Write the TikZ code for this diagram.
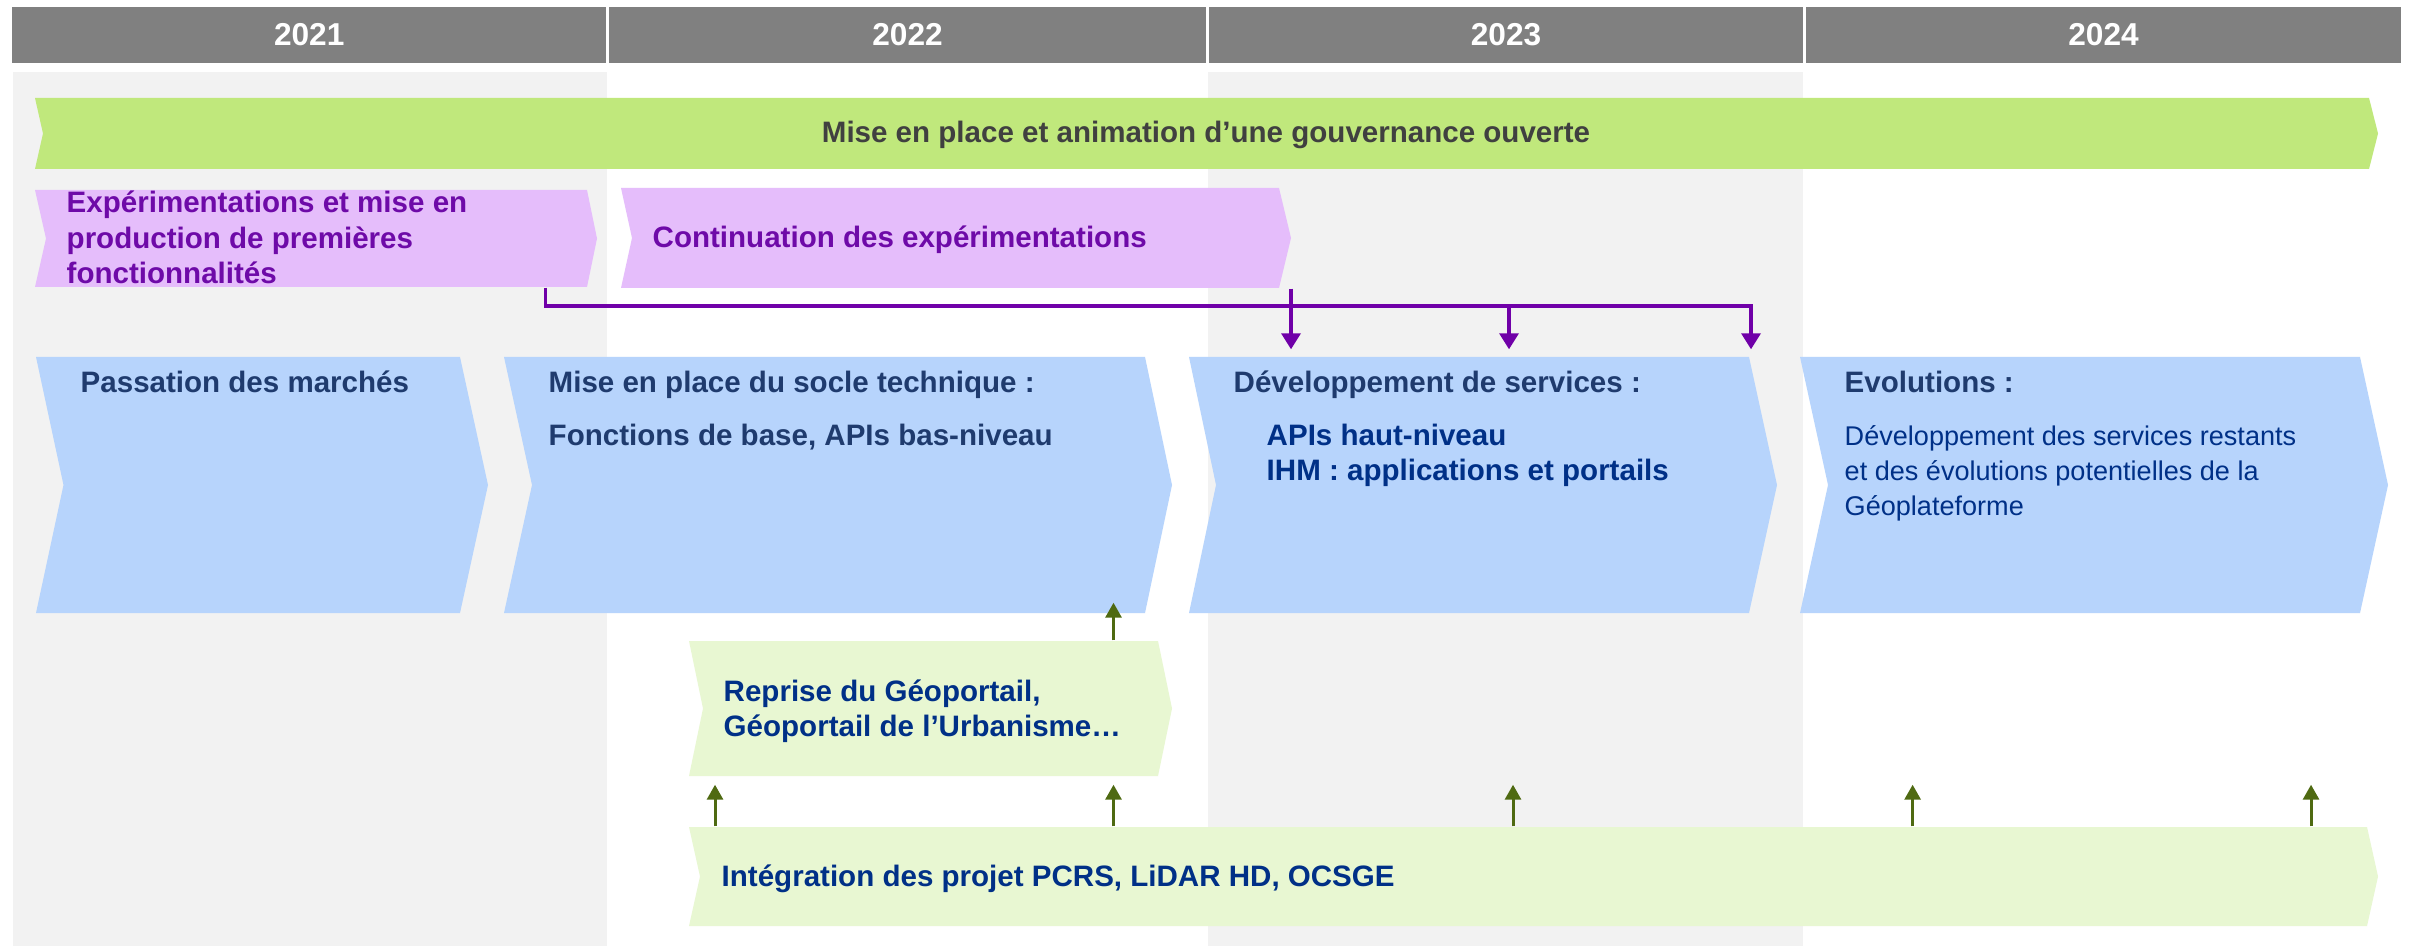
\documentclass[tikz,border=0pt]{standalone}
\usepackage{fontspec}
\setmainfont{Liberation Sans}
\usetikzlibrary{arrows.meta,fit}
\definecolor{hdrgray}{HTML}{808080}
\definecolor{bggray}{HTML}{F2F2F2}
\definecolor{gouvgreen}{HTML}{C0E87C}
\definecolor{lightgreen}{HTML}{E8F7D2}
\definecolor{purfill}{HTML}{E5BDFB}
\definecolor{purtext}{HTML}{6E0AA8}
\definecolor{purline}{HTML}{7000A8}
\definecolor{bluefill}{HTML}{B7D4FC}
\definecolor{navyA}{HTML}{1F3B6E}
\definecolor{navyB}{HTML}{003087}
\definecolor{arrgreen}{HTML}{4F6A12}
\definecolor{gouvtext}{HTML}{404040}
\newcommand\mychev[8]{%
  \fill[#8] (#2,#6) -- (#4,#6) -- (#5,{(#6+#7)/2}) -- (#4,#7) -- (#2,#7) -- (#3,{(#6+#7)/2}) -- cycle;
  \node[fit={(#2,#6) (#4,#7)}, inner sep=0pt] (#1) {};
}
\newcommand\bfont{\bfseries\fontsize{8.4}{9.96}\selectfont}
\newcommand\rfont{\fontsize{7.7}{9.96}\selectfont}
\tikzset{
  hdr/.style={fill=hdrgray, text=white, font=\bfseries\fontsize{9}{10}\selectfont, inner sep=0pt, minimum height=0.56cm},
  txt/.style={inner sep=0pt, anchor=base west},
  pline/.style={draw=purline, line width=0.95pt},
  parrow/.style={pline, -{Triangle[length=0.16cm,width=0.19cm]}, shorten >=0.07cm},
  garrow/.style={draw=arrgreen, line width=0.85pt, -{Triangle[length=0.15cm,width=0.16cm]}},
}
\begin{document}
\begin{tikzpicture}[x=0.01cm, y=-0.01cm]
\useasboundingbox (0,0) rectangle (2410,946);
\fill[white] (0,0) rectangle (2410,946);
% column backgrounds
\fill[bggray] (12.5,72) rectangle (607,946);
\fill[bggray] (1208,72) rectangle (1803,946);
% headers
\node[hdr, minimum width=5.935cm] (h1) at (309.25,35) {2021};
\node[hdr, minimum width=5.97cm] (h2) at (907.5,35) {2022};
\node[hdr, minimum width=5.94cm] (h3) at (1506,35) {2023};
\node[hdr, minimum width=5.95cm] (h4) at (2103.5,35) {2024};
% bars
\mychev{gouv}{35}{43}{2369}{2378}{98}{169}{gouvgreen}
\mychev{p1}{35}{46}{587}{597}{190}{287}{purfill}
\mychev{p2}{621}{632}{1279}{1291}{188}{288}{purfill}
\mychev{b1}{36}{63.5}{460}{488}{357}{613}{bluefill}
\mychev{b2}{504}{532}{1145}{1172}{357}{613}{bluefill}
\mychev{b3}{1189}{1216}{1749}{1777}{357}{613}{bluefill}
\mychev{b4}{1800}{1828}{2360}{2388}{357}{613}{bluefill}
\mychev{rep}{689}{703}{1158}{1172}{641}{776}{lightgreen}
\mychev{int}{689}{700}{2367}{2378}{827}{926}{lightgreen}
% texts
\node[inner sep=0pt, anchor=base, text=gouvtext, font=\bfont] (tgouv) at (1206,143) {Mise en place et animation d’une gouvernance ouverte};
\node[txt, text=purtext, font=\bfont] (tp1) at (66,213) {\begin{tabular}[t]{@{}l@{}}Expérimentations et mise en\\production de premières\\fonctionnalités\end{tabular}};
\node[txt, text=purtext, font=\bfont] (tp2) at (652,248) {Continuation des expérimentations};
\node[txt, text=navyA, font=\bfont] (tb1) at (80,393) {Passation des marchés};
\node[txt, text=navyA, font=\bfont] (tb2) at (548,393) {Mise en place du socle technique :};
\node[txt, text=navyA, font=\bfont] (tb2b) at (548,445) {Fonctions de base, APIs bas-niveau};
\node[txt, text=navyA, font=\bfont] (tb3) at (1233,393) {Développement de services :};
\node[txt, text=navyB, font=\bfont] (tb3b) at (1266,445) {\begin{tabular}[t]{@{}l@{}}APIs haut-niveau\\IHM : applications et portails\end{tabular}};
\node[txt, text=navyA, font=\bfont] (tb4) at (1844,393) {Evolutions :};
\node[txt, text=navyB, font=\rfont] (tb4b) at (1844,445) {\begin{tabular}[t]{@{}l@{}}Développement des services restants\\et des évolutions potentielles de la\\Géoplateforme\end{tabular}};
\node[txt, text=navyB, font=\bfont] (trep) at (723,701) {\begin{tabular}[t]{@{}l@{}}Reprise du Géoportail,\\Géoportail de l’Urbanisme…\end{tabular}};
\node[txt, text=navyB, font=\bfont] (tint) at (721,886) {Intégration des projet PCRS, LiDAR HD, OCSGE};
% purple bracket
\coordinate (bar) at (0,306);
\draw[parrow] (545.5,0 |- p1.south) |- (1751,0 |- bar) -- (1751,0 |- b3.north);
\draw[parrow] (1291,0 |- p2.south) -- (1291,0 |- b3.north);
\draw[parrow] (1509,0 |- bar) -- (1509,0 |- b3.north);
% green arrows
\draw[garrow, shorten >=-0.11cm] (1113.5,0 |- rep.north) -- (1113.5,0 |- b2.south);
\foreach \xx in {715,1113.5,1513,1912.6,2311}
  \draw[garrow, shorten >=0.08cm] (\xx,0 |- int.north) -- (\xx,0 |- rep.south);
\end{tikzpicture}
\end{document}
